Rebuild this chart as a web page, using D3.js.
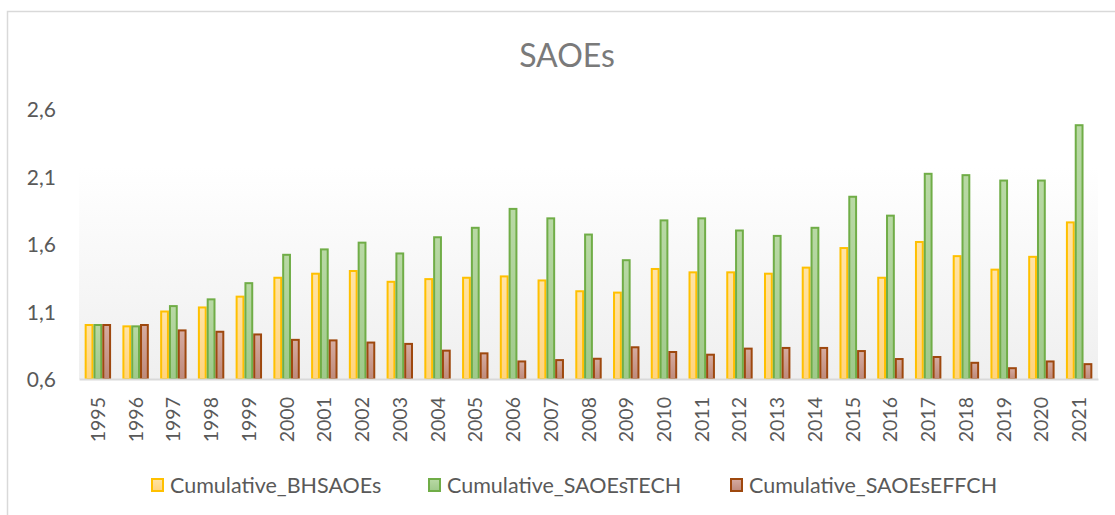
<!DOCTYPE html>
<html>
<head>
<meta charset="utf-8">
<script src="https://cdn.jsdelivr.net/npm/d3@7"></script>
<style>
  html, body { margin: 0; padding: 0; background: #ffffff; }
  svg { display: block; font-family: Lato, "Open Sans", sans-serif; }
</style>
</head>
<body>
<svg id="chart" width="1115" height="515"></svg>
<script>
// Years on the category axis
const years = ["1995","1996","1997","1998","1999","2000","2001","2002","2003","2004","2005","2006","2007","2008","2009","2010","2011","2012","2013","2014","2015","2016","2017","2018","2019","2020","2021"];

// Cumulative indices per year
const cumulativeBHSAOEs = [1.00,0.99,1.10,1.13,1.21,1.35,1.38,1.40,1.32,1.34,1.35,1.36,1.33,1.25,1.24,1.415,1.39,1.39,1.38,1.425,1.57,1.35,1.615,1.51,1.41,1.505,1.76];
const cumulativeSAOEsTECH = [1.00,0.99,1.14,1.19,1.31,1.52,1.56,1.61,1.53,1.65,1.72,1.86,1.79,1.67,1.48,1.775,1.79,1.70,1.66,1.72,1.95,1.81,2.12,2.11,2.07,2.07,2.48];
const cumulativeSAOEsEFFCH = [1.00,1.00,0.96,0.95,0.93,0.89,0.886,0.87,0.86,0.81,0.79,0.73,0.74,0.75,0.835,0.80,0.78,0.825,0.83,0.83,0.807,0.748,0.763,0.72,0.68,0.73,0.71];

const seriesNames = ["Cumulative_BHSAOEs","Cumulative_SAOEsTECH","Cumulative_SAOEsEFFCH"];
const yTicks = [0.6, 1.1, 1.6, 2.1, 2.6];
const chartTitle = "SAOEs";

const seriesValues = [cumulativeBHSAOEs, cumulativeSAOEsTECH, cumulativeSAOEsEFFCH];
const palette = [
  { top: "#ffe3a6", bottom: "#ffd47f", stroke: "#ffc000" },
  { top: "#b9d9a5", bottom: "#9fc98a", stroke: "#70ad47" },
  { top: "#d6aca1", bottom: "#be8a7b", stroke: "#9e480e" }
];

const svg = d3.select("#chart");
const defs = svg.append("defs");

// Plot-area background gradient
const bg = defs.append("linearGradient").attr("id", "plotBg")
  .attr("x1", 0).attr("y1", 0).attr("x2", 0).attr("y2", 1);
bg.append("stop").attr("offset", "0%").attr("stop-color", "#ffffff");
bg.append("stop").attr("offset", "100%").attr("stop-color", "#efefef");

palette.forEach((p, i) => {
  const g = defs.append("linearGradient").attr("id", "barFill" + i)
    .attr("x1", 0).attr("y1", 0).attr("x2", 0).attr("y2", 1);
  g.append("stop").attr("offset", "0%").attr("stop-color", p.top);
  g.append("stop").attr("offset", "100%").attr("stop-color", p.bottom);
});

// Outer frame
svg.append("rect")
  .attr("x", 7.5).attr("y", 11.5)
  .attr("width", 1130).attr("height", 520)
  .attr("fill", "none").attr("stroke", "#d9d9d9").attr("stroke-width", 1.5);

const plot = { left: 79, right: 1098, top: 109, bottom: 379 };

const x0 = d3.scaleBand().domain(years)
  .range([plot.left, plot.right])
  .paddingInner(0.3).paddingOuter(0.15);
const x1 = d3.scaleBand().domain(d3.range(seriesNames.length))
  .range([0, x0.bandwidth()]);
const y = d3.scaleLinear().domain([0.6, 2.6]).range([plot.bottom, plot.top]);

svg.append("rect")
  .attr("x", plot.left).attr("y", 167)
  .attr("width", plot.right - plot.left).attr("height", plot.bottom - 167)
  .attr("fill", "url(#plotBg)");

// Title
svg.append("text")
  .attr("x", 567).attr("y", 67)
  .attr("text-anchor", "middle")
  .attr("font-size", 32)
  .attr("fill", "#7a7a7a")
  .text(chartTitle);

// Value axis labels (comma decimal)
const locale = d3.formatLocale({ decimal: ",", thousands: " ", grouping: [3], currency: ["", ""] });
const fmt = locale.format(".1f");
const yAxis = svg.append("g")
  .attr("transform", "translate(56,0)")
  .call(d3.axisLeft(y).tickValues(yTicks).tickFormat(fmt).tickSize(0).tickPadding(0));
yAxis.select(".domain").remove();
yAxis.selectAll("text")
  .attr("font-family", "Lato, 'Open Sans', sans-serif")
  .attr("font-size", 21)
  .attr("fill", "#595959")
  .attr("dy", "0.36em");

// Bars
const groups = svg.append("g").selectAll("g")
  .data(years)
  .join("g")
  .attr("transform", d => `translate(${x0(d)},0)`);

groups.selectAll("rect")
  .data((d, i) => seriesValues.map((vals, s) => ({ s, v: vals[i] })))
  .join("rect")
  .attr("x", d => x1(d.s) + 1)
  .attr("width", x1.bandwidth() - 2)
  .attr("y", d => y(d.v))
  .attr("height", d => y(0.6) - y(d.v))
  .attr("fill", d => `url(#barFill${d.s})`)
  .attr("stroke", d => palette[d.s].stroke)
  .attr("stroke-width", 2);

// Category axis
const xAxis = svg.append("g")
  .attr("transform", `translate(0,${plot.bottom})`)
  .call(d3.axisBottom(x0).tickSize(0).tickPadding(0));
xAxis.select(".domain")
  .attr("stroke", "#d9d9d9").attr("stroke-width", 2);
xAxis.selectAll("text")
  .attr("font-family", "Lato, 'Open Sans', sans-serif")
  .attr("font-size", 19.5)
  .attr("fill", "#595959")
  .attr("text-anchor", "end")
  .attr("transform", "rotate(-90)")
  .attr("x", -18)
  .attr("y", 0)
  .attr("dy", "0.36em");

// Legend
const legendItems = [
  { name: seriesNames[0], sx: 151 },
  { name: seriesNames[1], sx: 428 },
  { name: seriesNames[2], sx: 730 }
];
const legend = svg.append("g").selectAll("g")
  .data(legendItems)
  .join("g")
  .attr("transform", d => `translate(${d.sx},478)`);
legend.append("rect")
  .attr("x", 1).attr("y", 1)
  .attr("width", 11).attr("height", 12)
  .attr("fill", (d, i) => `url(#barFill${i})`)
  .attr("stroke", (d, i) => palette[i].stroke)
  .attr("stroke-width", 2);
legend.append("text")
  .attr("x", 19).attr("y", 15)
  .attr("font-size", 21.5)
  .attr("fill", "#595959")
  .text(d => d.name);
</script>
</body>
</html>
